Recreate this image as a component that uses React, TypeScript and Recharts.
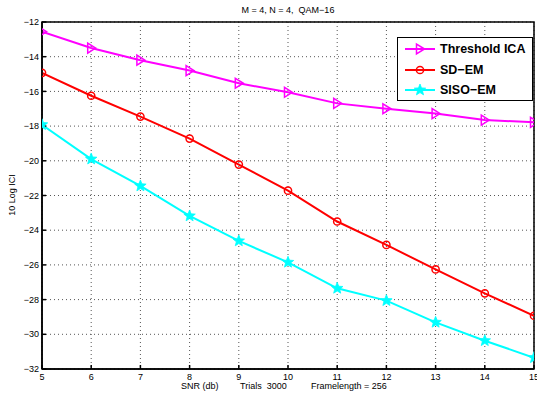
import { LineChart, Line, XAxis, YAxis, CartesianGrid, ReferenceArea } from 'recharts'

const snr = [5, 6, 7, 8, 9, 10, 11, 12, 13, 14, 15]
const thresholdIca = [-12.56, -13.5, -14.2, -14.8, -15.53, -16.05, -16.69, -17.0, -17.28, -17.65, -17.78]
const sdEm = [-14.93, -16.25, -17.45, -18.72, -20.22, -21.72, -23.5, -24.85, -26.26, -27.64, -28.93]
const sisoEm = [-17.92, -19.9, -21.45, -23.18, -24.62, -25.85, -27.35, -28.06, -29.31, -30.37, -31.35]
const yTicks = [-32, -30, -28, -26, -24, -22, -20, -18, -16, -14, -12]
const xTicks = snr

const data = snr.map((x, i) => ({
  snr: x,
  ica: thresholdIca[i],
  sd: sdEm[i],
  siso: sisoEm[i],
}))

const FONT = 'Helvetica, Arial, "Liberation Sans", sans-serif'
const minus = (v: number) => String(v).replace('-', '\u2212')

const TriDot = (props: any) => {
  const { cx, cy } = props
  if (cx == null || cy == null) return null
  return (
    <path
      d={`M${cx + 4.5},${cy} L${cx - 3.5},${cy - 5} L${cx - 3.5},${cy + 5} Z`}
      fill="none"
      stroke="#ff00ff"
      strokeWidth={1.5}
    />
  )
}

const CircleDot = (props: any) => {
  const { cx, cy } = props
  if (cx == null || cy == null) return null
  return <circle cx={cx} cy={cy} r={3.6} fill="none" stroke="#ff0000" strokeWidth={1.5} />
}

const starPath = (cx: number, cy: number, R: number, r: number) => {
  const pts: string[] = []
  for (let k = 0; k < 10; k++) {
    const rad = k % 2 === 0 ? R : r
    const a = -Math.PI / 2 + (k * Math.PI) / 5
    pts.push(`${(cx + rad * Math.cos(a)).toFixed(2)},${(cy + rad * Math.sin(a)).toFixed(2)}`)
  }
  return 'M' + pts.join(' L') + ' Z'
}

const StarDot = (props: any) => {
  const { cx, cy } = props
  if (cx == null || cy == null) return null
  return <path d={starPath(cx, cy, 6, 2.6)} fill="#00ffff" stroke="#00ffff" strokeWidth={0.8} />
}

const legendItems = [
  { name: 'Threshold ICA', color: '#ff00ff', marker: 'tri' },
  { name: 'SD\u2212EM', color: '#ff0000', marker: 'circle' },
  { name: 'SISO\u2212EM', color: '#00ffff', marker: 'star' },
]

function LegendBox() {
  return (
    <div
      style={{
        position: 'absolute',
        left: 397,
        top: 37,
        border: '1.5px solid #000',
        background: '#fff',
        width: 136,
        height: 64,
        boxSizing: 'border-box',
        padding: '1px 0 0 6px',
        fontFamily: FONT,
        fontWeight: 'bold',
        fontSize: 12.5,
        whiteSpace: 'nowrap',
      }}
    >
      {legendItems.map((it) => (
        <div key={it.name} style={{ display: 'flex', alignItems: 'center', height: 20.5 }}>
          <svg width={33} height={14} style={{ marginRight: 3 }}>
            <line x1={1} y1={7} x2={31} y2={7} stroke={it.color} strokeWidth={2} />
            {it.marker === 'tri' && <TriDot cx={16} cy={7} />}
            {it.marker === 'circle' && <CircleDot cx={16} cy={7} />}
            {it.marker === 'star' && <StarDot cx={16} cy={7} />}
          </svg>
          <span>{it.name}</span>
        </div>
      ))}
    </div>
  )
}

const axisTick = { fontSize: 9, fill: '#000', fontFamily: FONT }

export default function App() {
  return (
    <div style={{ position: 'absolute', left: 0, top: 0, width: 537, height: 399, background: '#fff' }}>
      <LineChart width={537} height={399} data={data} margin={{ top: 22, right: 3, bottom: 0, left: 0 }}>
        <CartesianGrid stroke="#555" strokeDasharray="1 3" strokeWidth={1} />
        <XAxis
          dataKey="snr"
          type="number"
          domain={[5, 15]}
          ticks={xTicks}
          interval={0}
          height={30}
          stroke="#000"
          strokeWidth={1.5}
          tickSize={-4}
          tickMargin={9}
          tick={axisTick}
          allowDataOverflow
        />
        <YAxis
          type="number"
          domain={[-32, -12]}
          ticks={yTicks}
          interval={0}
          width={42}
          stroke="#000"
          strokeWidth={1.5}
          tickSize={-4}
          tickMargin={7}
          tick={axisTick}
          tickFormatter={minus}
          allowDataOverflow
        />
        <ReferenceArea
          x1={5}
          x2={15}
          y1={-32}
          y2={-12}
          fill="none"
          stroke="#000"
          strokeWidth={1.5}
          ifOverflow="visible"
        />
        <Line
          dataKey="ica"
          name="Threshold ICA"
          stroke="#ff00ff"
          strokeWidth={2}
          dot={<TriDot />}
          isAnimationActive={false}
        />
        <Line
          dataKey="sd"
          name="SD-EM"
          stroke="#ff0000"
          strokeWidth={2}
          dot={<CircleDot />}
          isAnimationActive={false}
        />
        <Line
          dataKey="siso"
          name="SISO-EM"
          stroke="#00ffff"
          strokeWidth={2}
          dot={<StarDot />}
          isAnimationActive={false}
        />
      </LineChart>
      <LegendBox />
      <div
        style={{
          position: 'absolute',
          left: 0,
          width: 576,
          top: 5,
          textAlign: 'center',
          fontFamily: FONT,
          fontSize: 9,
          whiteSpace: 'pre',
        }}
      >
        {'M = 4, N = 4,  QAM\u221216'}
      </div>
      <div
        style={{
          position: 'absolute',
          left: 12,
          top: 195,
          transform: 'translate(-50%, -50%) rotate(-90deg)',
          fontFamily: FONT,
          fontSize: 9,
          whiteSpace: 'pre',
        }}
      >
        10 Log ICI
      </div>
      <div style={{ position: 'absolute', left: 181, top: 381, fontFamily: FONT, fontSize: 9, whiteSpace: 'pre' }}>SNR (db)</div>
      <div style={{ position: 'absolute', left: 240, top: 381, fontFamily: FONT, fontSize: 9, whiteSpace: 'pre' }}>Trials  3000</div>
      <div style={{ position: 'absolute', left: 311, top: 381, fontFamily: FONT, fontSize: 9, whiteSpace: 'pre' }}>Framelength = 256</div>
    </div>
  )
}
